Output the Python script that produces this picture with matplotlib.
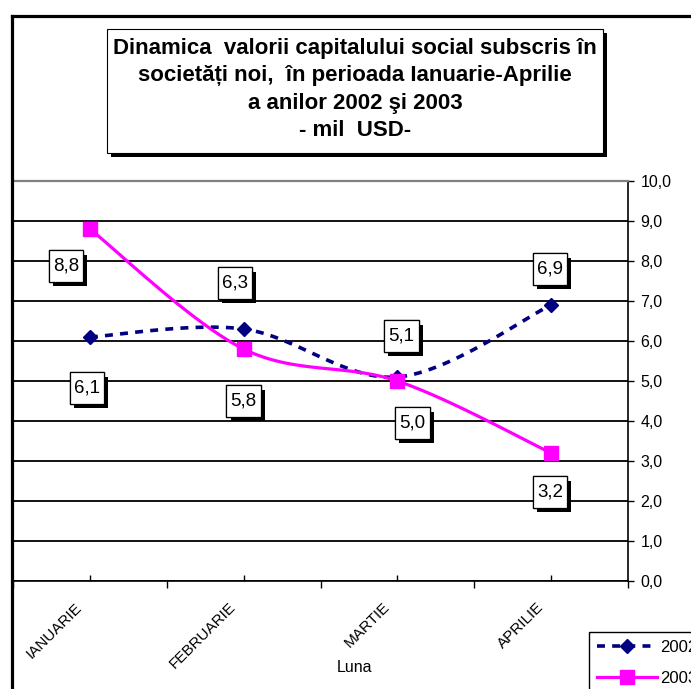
import numpy as np
import matplotlib
matplotlib.use("Agg")
import matplotlib.pyplot as plt
from matplotlib.lines import Line2D
from matplotlib.patches import Rectangle
from matplotlib.path import Path
from matplotlib.transforms import ScaledTranslation
import matplotlib.patheffects as pe

plt.rcParams['font.family'] = ['Liberation Sans', 'DejaVu Sans']

# ---- data ----
categories = ["IANUARIE", "FEBRUARIE", "MARTIE", "APRILIE"]
series_names = ["2002", "2003"]
values_2002 = [6.1, 6.3, 5.1, 6.9]
values_2003 = [8.8, 5.8, 5.0, 3.2]
labels_2002 = ["6,1", "6,3", "5,1", "6,9"]
labels_2003 = ["8,8", "5,8", "5,0", "3,2"]
yticks = [0, 1, 2, 3, 4, 5, 6, 7, 8, 9, 10]
ytick_labels = ["0,0", "1,0", "2,0", "3,0", "4,0", "5,0", "6,0", "7,0", "8,0", "9,0", "10,0"]
title = ("Dinamica  valorii capitalului social subscris în\n"
         "societăți noi,  în perioada Ianuarie-Aprilie\n"
         "a anilor 2002 şi 2003\n"
         "- mil  USD-")
xlabel = "Luna"

# label offsets in pixels (dx right, dy up)
offs_2002 = [(-3, -51), (-9, 46), (4, 41), (-1, 36)]
offs_2003 = [(-24, -37), (0, -52), (15, -42), (-1, -39)]

W, H = 691, 689
fig = plt.figure(figsize=(W / 100, H / 100), dpi=100)
fig.patch.set_facecolor("white")

ax = fig.add_axes([13 / W, 1 - 581 / H, (628 - 13) / W, (581 - 181) / H])
ax.set_xlim(-0.5, 3.5)
ax.set_ylim(0, 10)


def excel_smooth(xs, ys, sx, sy, n=40):
    P = np.column_stack([np.asarray(xs, float) * sx, np.asarray(ys, float) * sy])
    pts = []
    for i in range(len(P) - 1):
        p0 = P[i - 1] if i > 0 else P[i]
        p1 = P[i]
        p2 = P[i + 1]
        p3 = P[i + 2] if i + 2 < len(P) else P[i + 1]
        c1 = p1 + (p2 - p0) / 6
        c2 = p2 - (p3 - p1) / 6
        t = np.linspace(0, 1, n)[:, None]
        seg = (1 - t) ** 3 * p1 + 3 * (1 - t) ** 2 * t * c1 + 3 * (1 - t) * t ** 2 * c2 + t ** 3 * p2
        pts.append(seg if i == 0 else seg[1:])
    arr = np.vstack(pts)
    return arr[:, 0] / sx, arr[:, 1] / sy


def label_box(x0, y0, width, height, mutation_size):
    px = 0.22 * mutation_size
    py = 0.38 * mutation_size
    xa, xb = x0 - px, x0 + width + px
    ya, yb = y0 - py, y0 + height + py
    return Path([(xa, ya), (xb, ya), (xb, yb), (xa, yb), (xa, ya)],
                [Path.MOVETO, Path.LINETO, Path.LINETO, Path.LINETO, Path.CLOSEPOLY])


x = np.arange(len(categories))
navy = "#000080"
mag = "#FF00FF"

sx2, sy2 = excel_smooth(x, values_2002, 154, 40)
ax.plot(sx2, sy2, color=navy, lw=2.6, dashes=(2.2, 2.0), zorder=3)
ax.plot(x, values_2002, ls="none", marker="D", ms=7.5, color=navy, zorder=3.1)

sx3, sy3 = excel_smooth(x, values_2003, 154, 40)
ax.plot(sx3, sy3, color=mag, lw=2.3, zorder=4)
ax.plot(x, values_2003, ls="none", marker="s", ms=9.5, color=mag, zorder=4.1)

# data labels
shadow = [pe.withSimplePatchShadow(offset=(3, -3), shadow_rgbFace="black", alpha=1.0), pe.Normal()]
for vals, labs, offs in [(values_2002, labels_2002, offs_2002), (values_2003, labels_2003, offs_2003)]:
    for xi, v, lab, (dx, dy) in zip(x, vals, labs, offs):
        t = ax.annotate(lab, (xi, v), xytext=(dx, dy), textcoords="offset pixels",
                        ha="center", va="center", fontsize=13.5, zorder=6,
                        bbox=dict(boxstyle=label_box, fc="white", ec="black", lw=0.9))
        t.get_bbox_patch().set_path_effects(shadow)

# grid & spines
ax.set_yticks(yticks)
ax.set_yticklabels(ytick_labels)
ax.yaxis.tick_right()
ax.yaxis.grid(True, color="black", lw=1.3)
ax.set_axisbelow(True)
ax.tick_params(axis="y", direction="out", length=4, width=1, pad=5, labelsize=11.5, right=True, left=False)
ax.spines["left"].set_visible(False)
ax.spines["top"].set_color("#808080")
ax.spines["top"].set_linewidth(1.6)
ax.spines["right"].set_linewidth(1.2)
ax.spines["bottom"].set_linewidth(1.2)

ax.set_xticks(x)
ax.set_xticklabels(categories, rotation=45, ha="right", va="center", rotation_mode="anchor", fontsize=11)
ax.set_xticks(np.arange(-0.5, 4.0, 1.0), minor=True)
ax.tick_params(axis="x", which="major", direction="in", length=4, width=1, pad=0)
ax.tick_params(axis="x", which="minor", direction="out", length=5, width=1)
off = ScaledTranslation(-10 / 100, -24 / 100, fig.dpi_scale_trans)
for lbl in ax.get_xticklabels():
    lbl.set_transform(lbl.get_transform() + off)

fig.text(354 / W, 1 - 667 / H, xlabel, ha="center", va="center", fontsize=11.5)

# title box
fig.patches.append(Rectangle((111 / W, 1 - 157 / H), (603 - 107) / W, (153 - 29) / H,
                             transform=fig.transFigure, fc="black", ec="none", zorder=1))
fig.patches.append(Rectangle((107 / W, 1 - 153 / H), (603 - 107) / W, (153 - 29) / H,
                             transform=fig.transFigure, fc="white", ec="black", lw=0.8, zorder=2))
fig.text(355 / W, 1 - 89.5 / H, title, ha="center", va="center", fontsize=16,
         fontweight="bold", linespacing=1.4, zorder=3)

# outer chart border (partially visible)
bx, by = 11.5 / W, 1 - 15.5 / H
fig.add_artist(Line2D([bx, bx], [0, by], transform=fig.transFigure, color="black", lw=2.3,
                      solid_capstyle="projecting"))
fig.add_artist(Line2D([bx, 1.01], [by, by], transform=fig.transFigure, color="black", lw=2.3,
                      solid_capstyle="projecting"))

# legend (partially outside the picture, as in the reference)
h2002 = Line2D([], [], color=navy, lw=2.6, dashes=(2.2, 2.0), marker="D", ms=7.5)
h2003 = Line2D([], [], color=mag, lw=2.3, marker="s", ms=9.5)
leg = fig.legend([h2002, h2003], series_names, loc="upper left",
                 bbox_to_anchor=(589 / W, 1 - 632 / H), fontsize=12, frameon=True,
                 fancybox=False, edgecolor="black", framealpha=1, handlelength=3.6,
                 handletextpad=0.15, borderpad=0.5, labelspacing=0.95, borderaxespad=0)
leg.get_frame().set_linewidth(1.0)

fig.savefig("out.png", dpi=100)
